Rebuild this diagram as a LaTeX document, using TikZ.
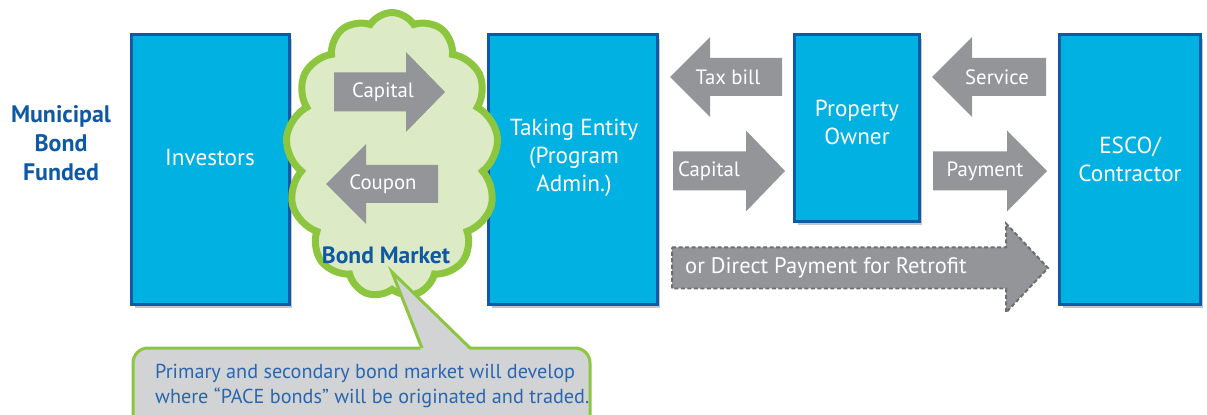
\documentclass[tikz,border=0pt]{standalone}
\usepackage{fontspec}
\setmainfont{PT Sans}
\usetikzlibrary{shapes.symbols, shadows}

\definecolor{boxblue}{HTML}{00B1E1}
\definecolor{boxborder}{HTML}{0D5AA7}
\definecolor{titleblue}{HTML}{0F59A4}
\definecolor{noteblue}{HTML}{2A66B0}
\definecolor{arrowgray}{HTML}{939598}
\definecolor{dashgray}{HTML}{6D6E71}
\definecolor{cloudgreen}{HTML}{8CC63F}
\definecolor{cloudfill}{HTML}{DCEAC5}
\definecolor{calloutgray}{HTML}{D1D3D4}

\begin{document}
\begin{tikzpicture}[
    x=0.02cm, y=-0.02cm, % one unit is one pixel of the layout
    entity/.style={draw=boxborder, fill=boxblue, line width=0.06cm, inner sep=0pt,
        drop shadow={shadow xshift=0.06cm, shadow yshift=-0.08cm, opacity=0.45}}, % blue boxes
    boxtext/.style={text=white, align=center, font=\fontsize{13.2}{16}\selectfont}, % text in the boxes
    flowlabel/.style={text=white, font=\fontsize{11.8}{13}\selectfont}, % text on the gray arrows
    ]
    \useasboundingbox (0,0) rectangle (1207,415);

    % title on the left
    \node[align=center, text=titleblue, font=\bfseries\fontsize{13.6}{16.5}\selectfont] (funded) at (61,143) {Municipal\\Bond\\Funded};

    % the four parties
    \node[entity, minimum width=3.16cm, minimum height=5.4cm] (investors) at (210.5,169.5) {};
    \node[entity, minimum width=3.38cm, minimum height=5.4cm] (taking) at (573,169.5) {};
    \node[entity, minimum width=2.5cm, minimum height=3.74cm] (owner) at (857,128) {};
    \node[entity, minimum width=2.82cm, minimum height=5.4cm] (esco) at (1130,169.5) {};

    % bond market cloud
    \node[cloud, cloud puffs=13, cloud puff arc=115, cloud ignores aspect, draw=cloudgreen, fill=cloudfill,
        line width=0.14cm, minimum width=4.25cm, minimum height=5.7cm] (market) at (392,155) {};

    \node[boxtext] (investorsLbl) at (210,158) {Investors};
    \node[boxtext] (takingLbl) at (574,158) {Taking Entity\\(Program\\Admin.)};
    \node[boxtext] (ownerLbl) at (857,122.5) {Property\\Owner};
    \node[boxtext] (escoLbl) at (1130,159) {ESCO/\\Contractor};

    % gray block arrows: tail / head base / tip / middle / half shaft / half head
    \foreach \tl/\hb/\tp/\yc/\bw/\hw in {334/406/445/92/19.5/40, 438/366/326/184/19/40,
        782/710/670/77/19/40, 673/746/785/171/19.5/40.5,
        1046/972/932/77/19/40, 933/1007/1047/171/19.5/40.5}
        \fill[arrowgray] (\tl,\yc-\bw) -- (\hb,\yc-\bw) -- (\hb,\yc-\hw) -- (\tp,\yc)
            -- (\hb,\yc+\hw) -- (\hb,\yc+\bw) -- (\tl,\yc+\bw) -- cycle;
    \draw[dashgray, fill=arrowgray, line width=0.04cm, dash pattern=on 2.3pt off 1.4pt]
        (672,247.5) -- (1006,247.5) -- (1006,223.5) -- (1048,268) -- (1006,312.5) -- (1006,288.5) -- (672,288.5) -- cycle;

    \node[flowlabel] (capitalIn) at (383,92) {Capital};
    \node[flowlabel] (coupon) at (383,184) {Coupon};
    \node[flowlabel] (taxbill) at (728,77) {Tax bill};
    \node[flowlabel] (capitalOut) at (709,171) {Capital};
    \node[flowlabel] (service) at (997,77) {Service};
    \node[flowlabel] (payment) at (985,171) {Payment};
    \node[flowlabel, anchor=west, font=\fontsize{12.8}{13}\selectfont] (direct) at (679,268) {or Direct Payment for Retrofit};

    \node[text=titleblue, font=\bfseries\fontsize{13.4}{15}\selectfont] (marketLbl) at (386,255) {Bond Market};

    % callout
    \draw[cloudgreen, fill=calloutgray, line width=0.06cm, rounded corners=0.3cm] (133,348) rectangle (590,450);
    \fill[calloutgray] (421,351) -- (392,272) -- (471,351) -- cycle;
    \draw[cloudgreen, line width=0.06cm] (422,348) -- (392,272) -- (470,348);
    \node[anchor=west, align=left, text=noteblue, font=\fontsize{11.5}{14.2}\selectfont] (note) at (149,386)
        {Primary and secondary bond market will develop\\where “PACE bonds” will be originated and traded.};
\end{tikzpicture}
\end{document}
